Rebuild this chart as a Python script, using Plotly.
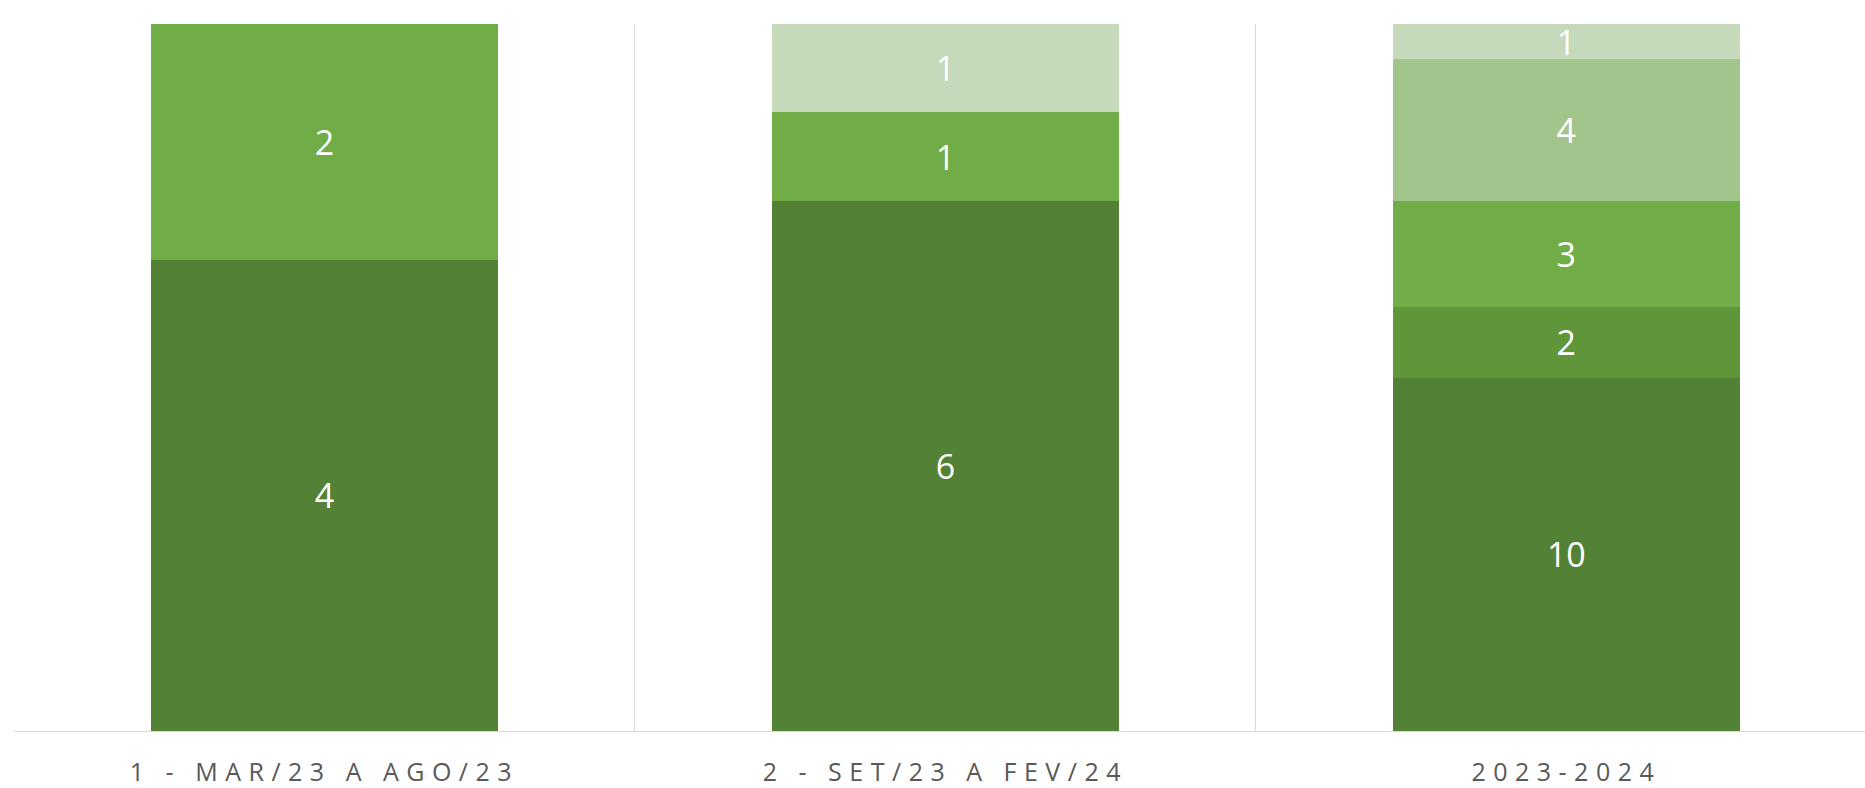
import plotly.graph_objects as go

categories = ["1 - MAR/23 A AGO/23", "2 - SET/23 A FEV/24", "2023-2024"]
serie_1 = [4, 6, 10]
serie_2 = [0, 0, 2]
serie_3 = [2, 1, 3]
serie_4 = [0, 0, 4]
serie_5 = [0, 1, 1]
series = [serie_1, serie_2, serie_3, serie_4, serie_5]
colors = ["#538135", "#5F963A", "#70AD47", "#A2C58C", "#C5D9BB"]

tick_text = ['<span style="letter-spacing:7.5px">%s</span>' % c for c in categories]

fig = go.Figure()
for vals, col in zip(series, colors):
    fig.add_trace(go.Bar(
        x=categories, y=vals,
        marker=dict(color=col, line=dict(width=0)),
        text=[str(v) if v else "" for v in vals],
        textposition="inside", insidetextanchor="middle", textangle=0,
        textfont=dict(family="Open Sans", size=34, color="white"),
        cliponaxis=False,
    ))

fig.update_layout(
    barmode="stack", barnorm="percent", bargap=0.441,
    width=1865, height=788,
    margin=dict(l=14, r=0, t=24, b=57, autoexpand=False),
    paper_bgcolor="white", plot_bgcolor="white",
    showlegend=False,
    uniformtext=dict(minsize=34, mode="show"),
    font=dict(family="Open Sans"),
)
fig.update_xaxes(
    type="category", range=[-0.5, 2.481], automargin=False,
    tickson="boundaries", showgrid=True, gridcolor="#D9D9D9", gridwidth=1,
    ticks="", showline=True, linecolor="#D9D9D9", linewidth=1,
    tickvals=categories, ticktext=tick_text,
    tickfont=dict(family="Open Sans", size=25, color="#595959"),
    ticklabelstandoff=19,
)
fig.update_yaxes(range=[0, 100], showgrid=False, showticklabels=False,
                 zeroline=False, showline=False, ticks="", automargin=False)

fig.write_html("out.html", config={"displayModeBar": False},
               post_script="document.body.style.margin='0';document.body.style.overflow='hidden';")
